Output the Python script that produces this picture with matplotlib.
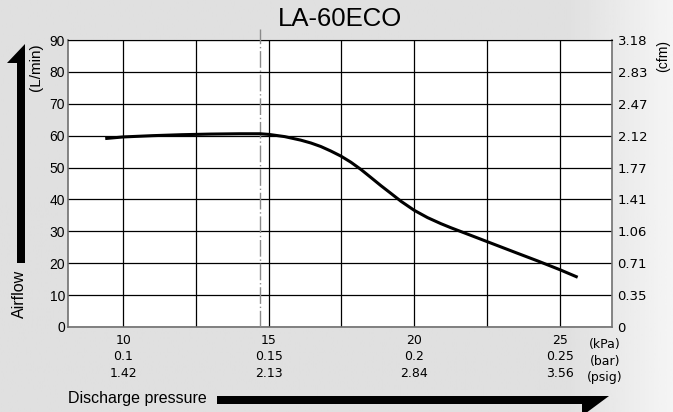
import matplotlib
matplotlib.use("Agg")
import matplotlib.pyplot as plt
from matplotlib.patches import Polygon
import numpy as np

# data (kPa vs L/min)
pressure_kpa = [9.38, 10.0, 11.0, 12.0, 13.0, 14.0, 14.7, 15.0, 15.55, 16.1,
                16.45, 16.79, 17.13, 17.48, 17.82, 18.17, 18.51, 18.86, 19.2,
                19.55, 20.0, 20.46, 20.92, 21.27, 21.9, 22.5, 23.5, 24.25,
                25.0, 25.62]
airflow_lpm = [59.1, 59.6, 60.0, 60.3, 60.5, 60.6, 60.6, 60.4, 59.7, 58.6,
               57.7, 56.6, 55.2, 53.6, 51.7, 49.4, 46.9, 44.3, 41.9,
               39.4, 36.6, 34.3, 32.4, 31.1, 28.9, 26.8, 23.3, 20.7,
               18.0, 15.6]

kpa_ticks = [10, 15, 20, 25]
bar_labels = ["0.1", "0.15", "0.2", "0.25"]
psig_labels = ["1.42", "2.13", "2.84", "3.56"]
lpm_ticks = [0, 10, 20, 30, 40, 50, 60, 70, 80, 90]
cfm_labels = ["0", "0.35", "0.71", "1.06", "1.41", "1.77", "2.12", "2.47", "2.83", "3.18"]
rated_kpa = 14.69

W, H = 673, 412
narrow = ["Liberation Sans Narrow", "DejaVu Sans"]
sans = ["Liberation Sans", "DejaVu Sans"]
plt.rcParams["font.family"] = sans

fig = plt.figure(figsize=(W / 100, H / 100), dpi=100)

# background gradient (grey, lighter towards the right edge)
bg = fig.add_axes([0, 0, 1, 1], zorder=-10)
xs = np.linspace(0, 1, 300)
shade = np.where(xs < 0.84, 0.875, 0.875 + (xs - 0.84) / 0.16 * 0.085)
bg.imshow(shade[None, :], cmap="gray", vmin=0, vmax=1, aspect="auto",
          extent=[0, 1, 0, 1])
bg.axis("off")


def px(x, y):
    return (x / W, 1 - y / H)


ax = fig.add_axes([68 / W, 1 - 327 / H, (612 - 68) / W, (327 - 40) / H])
ax.set_facecolor("white")
ax.set_xlim(8.1, 26.8)
ax.set_ylim(0, 90)

ax.set_xticks(kpa_ticks)
ax.set_xticks([12.5, 17.5, 22.5], minor=True)
ax.set_xticklabels([f"{k}\n{b}\n{p}" for k, b, p in zip(kpa_ticks, bar_labels, psig_labels)],
                   family=narrow, fontsize=9, linespacing=1.35)
ax.set_yticks(lpm_ticks)
ax.set_yticklabels([str(v) for v in lpm_ticks], fontsize=10)
ax.tick_params(axis="x", which="both", length=0, pad=5)
ax.tick_params(axis="y", length=0, pad=2)
ax.grid(which="both", color="black", linewidth=0.9)
ax.set_axisbelow(True)
for s in ["left", "bottom", "right"]:
    ax.spines[s].set_color("#707070")
    ax.spines[s].set_linewidth(1.2)
ax.spines["top"].set_color("black")

ax2 = ax.twinx()
ax2.set_ylim(0, 90)
ax2.set_yticks(lpm_ticks)
ax2.set_yticklabels(cfm_labels, family=narrow, fontsize=9.5)
ax2.tick_params(axis="y", length=0, pad=4)
for s in ax2.spines.values():
    s.set_visible(False)

ax.plot(pressure_kpa, airflow_lpm, color="black", linewidth=2.2,
        solid_capstyle="butt", solid_joinstyle="round", zorder=5)
ax.plot([rated_kpa, rated_kpa], [0, 93.3], color="#8a8a8a", linewidth=1.0,
        linestyle=(0, (12, 2, 1, 2)), clip_on=False, zorder=4)

ax.text(26.55, -0.04, "(kPa)\n(bar)\n(psig)", transform=ax.get_xaxis_transform(),
        ha="center", va="top", family=narrow, fontsize=9, linespacing=1.35)

fig.text(340 / W, 1 - 19 / H, "LA-60ECO", ha="center", va="center", fontsize=18.5)
fig.text(36 / W, 1 - 67 / H, "(L/min)", ha="center", va="center",
         rotation=90, fontsize=11)
fig.text(663 / W, 1 - 56 / H, "(cfm)", ha="center", va="center",
         rotation=90, fontsize=10)
fig.text(19 / W, 1 - 294 / H, "Airflow", ha="center", va="center",
         rotation=90, fontsize=11.5)
fig.text(68 / W, 1 - 399 / H, "Discharge pressure", ha="left", va="center",
         fontsize=11.5)

# the two big one-sided arrows
up = [px(17, 263), px(25, 263), px(25, 44), px(7, 63), px(17, 63)]
fig.patches.append(Polygon(up, closed=True, transform=fig.transFigure,
                           facecolor="black", edgecolor="none"))
right = [px(217, 396), px(609, 396), px(582, 416), px(582, 404), px(217, 404)]
fig.patches.append(Polygon(right, closed=True, transform=fig.transFigure,
                           facecolor="black", edgecolor="none"))

fig.savefig("out.png", dpi=100)
